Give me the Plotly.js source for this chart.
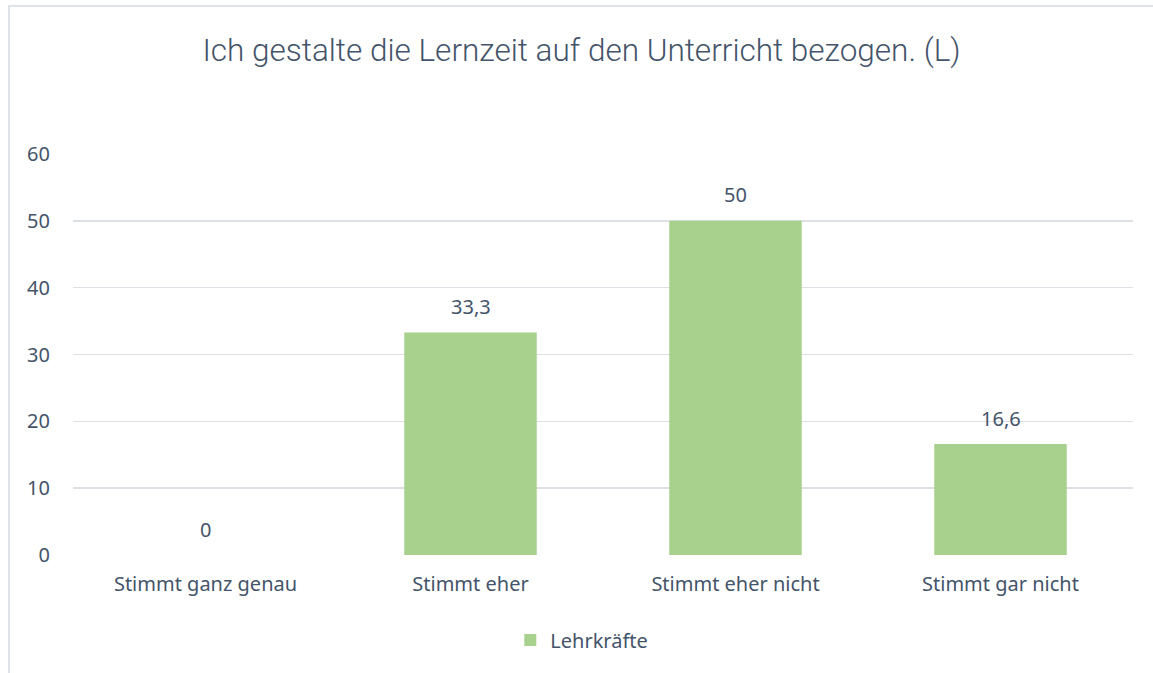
<!DOCTYPE html>
<html><head><meta charset="utf-8">
<script src="https://cdn.plot.ly/plotly-3.0.1.min.js"></script>
<style>
html,body{margin:0;padding:0;background:#fff;}
#wrap{position:absolute;left:8px;top:5px;width:1145px;height:668px;border-left:2px solid #DFE3E8;border-top:2px solid #DFE3E8;box-sizing:border-box;}
#chart{width:1143px;height:666px;}
</style></head>
<body><div id="wrap"><div id="chart"></div></div>
<script>
const categories = ["Stimmt ganz genau", "Stimmt eher", "Stimmt eher nicht", "Stimmt gar nicht"];
const lehrkraefte = [0, 33.3, 50, 16.6];
const seriesName = "Lehrkräfte";
const yTicks = [0, 10, 20, 30, 40, 50, 60];
const txt = '#44546A';
const font = 'Noto Sans, Open Sans, sans-serif';
const annotations = categories.map((c, i) => ({
  x: c, y: lehrkraefte[i], xref: 'x', yref: 'y',
  text: String(lehrkraefte[i]).replace('.', ','), showarrow: false,
  yanchor: 'middle', yshift: 26,
  font: {family: font, size: 20, color: txt}
}));
Plotly.newPlot('chart', [{
  type: 'bar', x: categories, y: lehrkraefte, name: seriesName,
  marker: {color: '#A9D18E'},
  hoverinfo: 'none'
}], {
  width: 1143, height: 666,
  margin: {l: 63, r: 20, t: 147, b: 118},
  paper_bgcolor: '#fff', plot_bgcolor: '#fff',
  separators: ',.',
  bargap: 0.5,
  annotations: annotations,
  title: {text: 'Ich gestalte die Lernzeit auf den Unterricht bezogen. (L)', font: {family: 'Roboto, sans-serif', size: 31.5, weight: 300, color: txt}, x: 0.5, xanchor: 'center', y: 0.935, yanchor: 'middle'},
  xaxis: {tickfont: {family: font, size: 20, color: txt}, showgrid: false, zeroline: false, showline: false, ticks: '', ticklabelstandoff: 15},
  yaxis: {range: [0, 60], tickvals: yTicks, tickfont: {family: font, size: 20, color: txt}, gridcolor: '#DDE1E6', gridwidth: 1.5, zeroline: false, showline: false, ticks: '', ticklabelstandoff: 22},
  showlegend: true,
  legend: {orientation: 'h', x: 0.48, xanchor: 'center', y: -0.212, yanchor: 'middle', font: {family: font, size: 20, color: txt}, itemwidth: 30}
}, {displayModeBar: false, staticPlot: true});
</script></body></html>
